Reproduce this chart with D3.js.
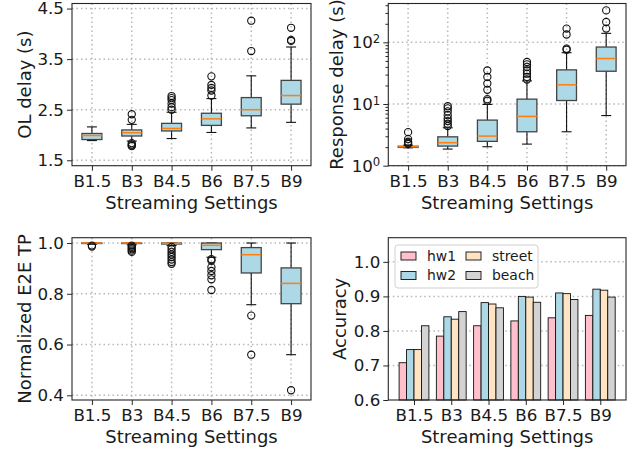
<!DOCTYPE html>
<html>
<head>
<meta charset="utf-8">
<script src="https://cdn.jsdelivr.net/npm/d3@7/dist/d3.min.js"></script>
<style>
  body { margin: 0; background: #fff; }
  text { font-family: 'DejaVu Sans', sans-serif; fill: #1a1a1a; }
</style>
</head>
<body>
<div id="viz"></div>
<script>
const settings = ['B1.5', 'B3', 'B4.5', 'B6', 'B7.5', 'B9'];

// box stats per setting: [whisker low, q1, median, q3, whisker high]
const olBoxes = [
  [1.89, 1.91, 1.99, 2.03, 2.16],
  [1.88, 1.98, 2.045, 2.10, 2.21],
  [1.93, 2.08, 2.13, 2.23, 2.45],
  [2.05, 2.19, 2.32, 2.43, 2.72],
  [2.14, 2.38, 2.50, 2.74, 3.17],
  [2.25, 2.61, 2.78, 3.08, 3.74]
];
const olOutliers = [
  [],
  [2.41, 2.30, 1.84, 1.81, 1.79, 1.78],
  [2.77, 2.73, 2.69, 2.62, 2.55, 2.50],
  [3.16, 2.99, 2.93, 2.88, 2.78],
  [4.26, 3.66],
  [4.12, 3.88, 3.86]
];

const rdBoxes = [
  [1.95, 1.98, 2.03, 2.07, 2.15],
  [1.86, 2.08, 2.36, 2.94, 4.12],
  [2.03, 2.48, 3.02, 5.49, 9.85],
  [2.24, 3.55, 6.3, 12, 23.7],
  [3.55, 11.4, 20.5, 35.8, 68],
  [6.5, 34, 54.7, 84, 140]
];
const rdOutliers = [
  [3.5, 2.7, 2.45, 2.35, 2.25],
  [9.2, 8.5, 7.6, 6.6, 5.8, 5.3, 4.8, 4.4],
  [35, 27.5, 21.5, 17, 12, 11.3],
  [48, 44, 40, 35, 31, 27.5, 25],
  [167, 134, 79, 76],
  [330, 214, 167]
];

const tpBoxes = [
  [0.995, 0.998, 1.0, 1.0, 1.0],
  [0.993, 0.998, 1.0, 1.0, 1.0],
  [0.99, 0.996, 0.999, 1.0, 1.0],
  [0.944, 0.974, 0.991, 1.0, 1.0],
  [0.757, 0.882, 0.954, 0.982, 1.0],
  [0.56, 0.761, 0.841, 0.902, 1.0]
];
const tpOutliers = [
  [0.99, 0.986],
  [0.99, 0.985, 0.98, 0.975, 0.97, 0.965],
  [0.985, 0.975, 0.965, 0.955, 0.945, 0.935, 0.925, 0.918],
  [0.936, 0.93, 0.905, 0.89, 0.873, 0.857, 0.815],
  [0.714, 0.56],
  [0.42]
];

const accNames = ['hw1', 'hw2', 'street', 'beach'];
const accHw1 = [0.708, 0.785, 0.815, 0.829, 0.838, 0.845];
const accHw2 = [0.746, 0.841, 0.882, 0.900, 0.910, 0.921];
const accStreet = [0.746, 0.834, 0.878, 0.898, 0.908, 0.918];
const accBeach = [0.815, 0.856, 0.867, 0.883, 0.891, 0.898];

const olTicks = [1.5, 2.5, 3.5, 4.5];
const rdTicks = [1, 10, 100];
const tpTicks = [0.4, 0.6, 0.8, 1.0];
const accTicks = [0.6, 0.7, 0.8, 0.9, 1.0];

const w = 641;
const h = 452;
const tickFont = '16.7px';
const accColors = ['#ffc0cb', '#add8e6', '#ffe4c4', '#d3d3d3'];

const svg = d3.select('#viz').
  append('svg').
  attr('width', w).
  attr('height', h);

const top1 = {y0: 3.5, y1: 165.7};
const bot1 = {y0: 237.7, y1: 400};
const left1 = {x0: 72, x1: 311};
const right1 = {x0: 388.3, x1: 626};

function gridLines(g, xs, ys, xvals, yvals, p) {
  const grid = g.append('g').attr('class', 'grid');
  xvals.forEach(v => {
    grid.append('line').
      attr('x1', xs(v)).attr('x2', xs(v)).
      attr('y1', p.y0).attr('y2', p.y1);
  });
  yvals.forEach(v => {
    grid.append('line').
      attr('x1', p.x0).attr('x2', p.x1).
      attr('y1', ys(v)).attr('y2', ys(v));
  });
  grid.selectAll('line').
    attr('stroke', '#b8b8b8').
    attr('stroke-width', 1.5).
    attr('stroke-dasharray', '1.5,3');
}

function xAxisFor(g, xs, vals, p) {
  const ax = g.append('g').
    attr('transform', 'translate(0,' + p.y1 + ')').
    call(d3.axisBottom(xs).tickValues(vals).
      tickFormat((d, i) => settings[i]).tickSize(5).tickPadding(4).tickSizeOuter(0));
  ax.select('.domain').remove();
  ax.selectAll('text').style('font-size', tickFont).attr('fill', '#1a1a1a');
  ax.selectAll('line').attr('stroke', '#262626');
  g.append('text').
    attr('x', (p.x0 + p.x1) / 2).
    attr('y', p.y1 + 43).
    attr('text-anchor', 'middle').
    style('font-size', '18px').
    text('Streaming Settings');
}

function yLabel(g, txt, x, p) {
  g.append('text').
    attr('transform', 'translate(' + x + ',' + (p.y0 + p.y1) / 2 + ') rotate(-90)').
    attr('text-anchor', 'middle').
    attr('dy', '0.35em').
    style('font-size', '18px').
    text(txt);
}

function frame(g, p) {
  g.append('rect').
    attr('x', p.x0).attr('y', p.y0).
    attr('width', p.x1 - p.x0).attr('height', p.y1 - p.y0).
    attr('fill', 'none').
    attr('stroke', '#262626').
    attr('stroke-width', 1.1);
}

function boxPanel(p, boxes, outliers, ys, ticks, fmt, label, labelX, isLog) {
  const g = svg.append('g');
  const xs = d3.scaleLinear().domain([0.5, 6.5]).range([p.x0, p.x1]);
  const pos = settings.map((d, i) => i + 1);
  gridLines(g, xs, ys, pos, ticks, p);

  const bw = xs(1.25) - xs(0.75);
  const boxG = g.append('g');
  boxes.forEach((b, i) => {
    const cx = xs(i + 1);
    boxG.append('line').attr('x1', cx).attr('x2', cx).
      attr('y1', ys(b[0])).attr('y2', ys(b[1])).attr('stroke', '#111').attr('stroke-width', 1.1);
    boxG.append('line').attr('x1', cx).attr('x2', cx).
      attr('y1', ys(b[3])).attr('y2', ys(b[4])).attr('stroke', '#111').attr('stroke-width', 1.1);
    [b[0], b[4]].forEach(v => {
      boxG.append('line').attr('x1', cx - bw / 4).attr('x2', cx + bw / 4).
        attr('y1', ys(v)).attr('y2', ys(v)).attr('stroke', '#111').attr('stroke-width', 1.1);
    });
    boxG.append('rect').
      attr('x', cx - bw / 2).
      attr('y', ys(b[3])).
      attr('width', bw).
      attr('height', Math.max(ys(b[1]) - ys(b[3]), 0.5)).
      attr('fill', '#add8e6').
      attr('stroke', '#444').
      attr('stroke-width', 1.3);
    boxG.append('line').attr('x1', cx - bw / 2).attr('x2', cx + bw / 2).
      attr('y1', ys(b[2])).attr('y2', ys(b[2])).
      attr('stroke', '#ff7f0e').attr('stroke-width', 1.5);
    boxG.selectAll(null).
      data(outliers[i]).
      enter().
      append('circle').
      attr('cx', cx).
      attr('cy', d => ys(d)).
      attr('r', 3.6).
      attr('fill', 'none').
      attr('stroke', '#111').
      attr('stroke-width', 1.1);
  });

  xAxisFor(g, xs, pos, p);

  const ay = g.append('g').
    attr('transform', 'translate(' + p.x0 + ',0)').
    call(d3.axisLeft(ys).tickValues(ticks).tickFormat(fmt).tickSize(5).tickPadding(3).tickSizeOuter(0));
  ay.select('.domain').remove();
  ay.selectAll('text').style('font-size', tickFont).attr('fill', '#1a1a1a');
  ay.selectAll('line').attr('stroke', '#262626');

  if (isLog) {
    // rewrite labels as 10^k
    ay.selectAll('.tick text').each(function (d) {
      const t = d3.select(this);
      t.text('');
      t.append('tspan').text('10');
      t.append('tspan').attr('dy', '-0.45em').style('font-size', '11.7px').text(Math.round(Math.log10(d)));
    });
    const minor = [];
    [1, 10, 100].forEach(dec => {
      for (let k = 2; k <= 9; k++) {
        if (dec * k <= ys.domain()[1]) minor.push(dec * k);
      }
    });
    const am = g.append('g').
      attr('transform', 'translate(' + p.x0 + ',0)').
      call(d3.axisLeft(ys).tickValues(minor).tickFormat('').tickSize(2.8).tickSizeOuter(0));
    am.select('.domain').remove();
    am.selectAll('line').attr('stroke', '#262626');
  }

  yLabel(g, label, labelX, p);
  frame(g, p);
}

// OL delay
const pA = {x0: left1.x0, x1: left1.x1, y0: top1.y0, y1: top1.y1};
boxPanel(pA, olBoxes, olOutliers,
  d3.scaleLinear().domain([1.393, 4.6]).range([pA.y1, pA.y0]),
  olTicks, d3.format('.1f'), 'OL delay (s)', 25, false);

// Response delay (log)
const pB = {x0: right1.x0, x1: right1.x1, y0: top1.y0, y1: top1.y1};
boxPanel(pB, rdBoxes, rdOutliers,
  d3.scaleLog().domain([1, Math.pow(10, 2.63)]).range([pB.y1, pB.y0]),
  rdTicks, d => d, 'Response delay (s)', 337, true);

// Normalized E2E TP
const pC = {x0: left1.x0, x1: left1.x1, y0: bot1.y0, y1: bot1.y1};
boxPanel(pC, tpBoxes, tpOutliers,
  d3.scaleLinear().domain([0.3815, 1.021]).range([pC.y1, pC.y0]),
  tpTicks, d3.format('.1f'), 'Normalized E2E TP', 25, false);

// Accuracy bars
const pD = {x0: right1.x0, x1: right1.x1, y0: bot1.y0, y1: bot1.y1};
const gD = svg.append('g');
const xD = d3.scaleLinear().domain([-0.69, 5.69]).range([pD.x0, pD.x1]);
const yD = d3.scaleLinear().domain([0.6, 1.07]).range([pD.y1, pD.y0]);
gridLines(gD, xD, yD, [], accTicks.slice(1), pD);

const accSeries = [accHw1, accHw2, accStreet, accBeach];
const barW = 0.2;
accSeries.forEach((series, k) => {
  gD.selectAll(null).
    data(series).
    enter().
    append('rect').
    attr('x', (d, i) => xD(i + (k - 1.5) * barW - barW / 2)).
    attr('y', d => yD(d)).
    attr('width', xD(barW) - xD(0)).
    attr('height', d => yD(0.6) - yD(d)).
    attr('fill', accColors[k]).
    attr('stroke', '#111').
    attr('stroke-width', 0.9);
});

xAxisFor(gD, xD, settings.map((d, i) => i), pD);
const ayD = gD.append('g').
  attr('transform', 'translate(' + pD.x0 + ',0)').
  call(d3.axisLeft(yD).tickValues(accTicks).tickFormat(d3.format('.1f')).tickSize(5).tickPadding(3).tickSizeOuter(0));
ayD.select('.domain').remove();
ayD.selectAll('text').style('font-size', tickFont).attr('fill', '#1a1a1a');
ayD.selectAll('line').attr('stroke', '#262626');
yLabel(gD, 'Accuracy', 340, pD);

// legend
const leg = gD.append('g').attr('transform', 'translate(395,245)');
leg.append('rect').
  attr('width', 143).attr('height', 43).
  attr('rx', 3).
  attr('fill', 'rgba(255,255,255,0.8)').
  attr('stroke', '#d0d0d0');
accNames.forEach((name, k) => {
  const col = Math.floor(k / 2);
  const row = k % 2;
  const item = leg.append('g').attr('transform', 'translate(' + (6 + col * 65) + ',' + (7 + row * 19.5) + ')');
  item.append('rect').
    attr('width', 15).attr('height', 8).
    attr('fill', accColors[k]).
    attr('stroke', '#111').
    attr('stroke-width', 0.9);
  item.append('text').
    attr('x', 26).
    attr('y', 8.5).
    style('font-size', '13.9px').
    text(name);
});
frame(gD, pD);
</script>
</body>
</html>
